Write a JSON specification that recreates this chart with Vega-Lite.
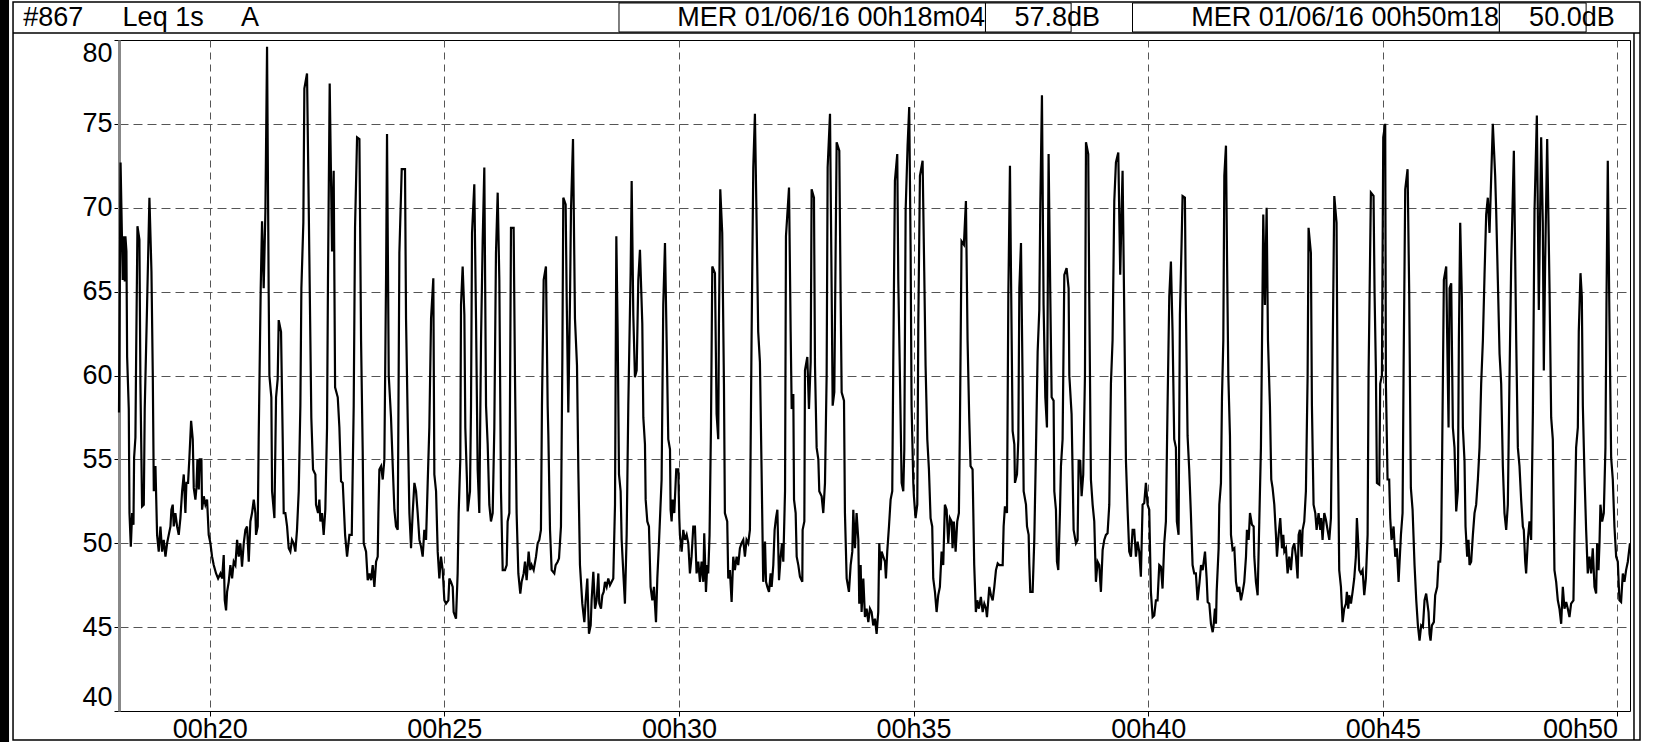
{
"$schema": "https://vega.github.io/schema/vega-lite/v6.json",
"width": 1511, "height": 671,
"autosize": {"type": "none"},
"padding": {"left": 119, "top": 40, "right": 28, "bottom": 31},
"background": "white",
"config": {"view": {"stroke": "#000", "strokeWidth": 1}, "font": "Liberation Sans"},
"data": {"values": [
{"s":1084,"leq":57.8},{"s":1086,"leq":72.7},{"s":1088.8,"leq":65.7},{"s":1090.1,"leq":68.3},{"s":1091.4,"leq":65.6},{"s":1092.2,"leq":68.3},{"s":1093.5,"leq":67.4},{"s":1094.4,"leq":61.1},{"s":1096.5,"leq":58.0},{"s":1097.4,"leq":51.8},{"s":1099.1,"leq":49.8},{"s":1100.8,"leq":51.8},{"s":1102.5,"leq":51.1},{"s":1103.3,"leq":55.1},{"s":1105.0,"leq":56.3},{"s":1105.9,"leq":61.1},{"s":1107.6,"leq":68.9},{"s":1110.1,"leq":68.1},{"s":1111.4,"leq":59.5},{"s":1113.5,"leq":52.2},{"s":1115.7,"leq":52.3},{"s":1116.9,"leq":58.0},{"s":1119.9,"leq":64.2},{"s":1122.9,"leq":70.6},{"s":1125.5,"leq":66.2},{"s":1127.2,"leq":60.0},{"s":1128.5,"leq":53.1},{"s":1130.6,"leq":54.6},{"s":1132.7,"leq":50.5},{"s":1134.8,"leq":49.5},{"s":1137.0,"leq":51.0},{"s":1139.1,"leq":49.5},{"s":1141.2,"leq":50.2},{"s":1143.4,"leq":49.2},{"s":1145.5,"leq":50.0},{"s":1147.6,"leq":50.5},{"s":1149.8,"leq":51.0},{"s":1151.0,"leq":52.0},{"s":1152.7,"leq":52.3},{"s":1154.0,"leq":51.0},{"s":1156.1,"leq":51.8},{"s":1158.3,"leq":51.0},{"s":1160.4,"leq":50.5},{"s":1162.5,"leq":51.5},{"s":1164.7,"leq":53.1},{"s":1166.8,"leq":54.1},{"s":1168.9,"leq":51.8},{"s":1170.2,"leq":53.6},{"s":1172.3,"leq":53.6},{"s":1174.0,"leq":55.1},{"s":1176.2,"leq":57.3},{"s":1178.3,"leq":56.2},{"s":1179.6,"leq":53.3},{"s":1181.7,"leq":52.6},{"s":1183.0,"leq":53.3},{"s":1184.3,"leq":55.0},{"s":1186.0,"leq":53.2},{"s":1187.2,"leq":55.0},{"s":1189.4,"leq":55.0},{"s":1190.2,"leq":52.0},{"s":1192.4,"leq":52.8},{"s":1194.5,"leq":52.3},{"s":1196.6,"leq":52.6},{"s":1198.7,"leq":50.5},{"s":1200.9,"leq":50.0},{"s":1203.0,"leq":49.2},{"s":1205.1,"leq":48.7},{"s":1208.1,"leq":48.2},{"s":1210.7,"leq":47.9},{"s":1213.7,"leq":48.2},{"s":1215.8,"leq":47.9},{"s":1217.9,"leq":49.3},{"s":1219.2,"leq":46.6},{"s":1220.9,"leq":46.0},{"s":1222.2,"leq":47.1},{"s":1224.3,"leq":47.7},{"s":1226.4,"leq":48.7},{"s":1228.6,"leq":47.9},{"s":1230.7,"leq":48.9},{"s":1232.8,"leq":48.7},{"s":1235.0,"leq":50.2},{"s":1237.1,"leq":49.2},{"s":1239.2,"leq":50.0},{"s":1241.3,"leq":48.6},{"s":1243.5,"leq":50.0},{"s":1245.6,"leq":50.8},{"s":1247.7,"leq":51.0},{"s":1249.9,"leq":48.9},{"s":1252.0,"leq":51.3},{"s":1254.1,"leq":51.8},{"s":1256.3,"leq":52.6},{"s":1258.4,"leq":51.8},{"s":1259.2,"leq":50.5},{"s":1261.4,"leq":51.0},{"s":1262.6,"leq":56.2},{"s":1265.2,"leq":65.2},{"s":1266.9,"leq":69.2},{"s":1269.0,"leq":65.2},{"s":1271.2,"leq":69.8},{"s":1273.3,"leq":79.6},{"s":1275.4,"leq":64.9},{"s":1276.3,"leq":60.0},{"s":1278.8,"leq":58.7},{"s":1279.7,"leq":53.1},{"s":1282.7,"leq":51.5},{"s":1284.8,"leq":58.7},{"s":1286.9,"leq":59.8},{"s":1288.2,"leq":63.3},{"s":1291.2,"leq":62.6},{"s":1293.3,"leq":56.3},{"s":1294.6,"leq":51.8},{"s":1296.7,"leq":51.8},{"s":1298.9,"leq":51.0},{"s":1301.0,"leq":49.7},{"s":1303.1,"leq":49.5},{"s":1305.2,"leq":50.2},{"s":1307.4,"leq":50.0},{"s":1309.5,"leq":49.5},{"s":1311.6,"leq":50.8},{"s":1313.8,"leq":53.1},{"s":1315.9,"leq":58.2},{"s":1317.2,"leq":65.2},{"s":1319.7,"leq":69.1},{"s":1321.0,"leq":77.1},{"s":1324.4,"leq":78.0},{"s":1326.5,"leq":70.4},{"s":1328.7,"leq":62.1},{"s":1329.9,"leq":57.5},{"s":1332.1,"leq":54.4},{"s":1335.1,"leq":54.1},{"s":1335.9,"leq":52.3},{"s":1338.5,"leq":51.8},{"s":1340.2,"leq":52.6},{"s":1341.5,"leq":51.3},{"s":1343.6,"leq":51.8},{"s":1345.7,"leq":50.5},{"s":1347.8,"leq":52.0},{"s":1350.0,"leq":56.9},{"s":1351.2,"leq":65.7},{"s":1353.4,"leq":77.4},{"s":1355.5,"leq":70.4},{"s":1356.4,"leq":67.4},{"s":1358.5,"leq":72.2},
{"s":1359.4,"leq":65.7},{"s":1360.3,"leq":59.3},{"s":1363.7,"leq":58.7},{"s":1365.8,"leq":56.9},{"s":1367.9,"leq":53.7},{"s":1370.1,"leq":53.6},{"s":1373.1,"leq":50.5},{"s":1375.6,"leq":49.2},{"s":1378.6,"leq":50.5},{"s":1381.6,"leq":50.5},{"s":1384.1,"leq":58.2},{"s":1385.8,"leq":68.8},{"s":1388.4,"leq":74.2},{"s":1391.4,"leq":74.1},{"s":1393.5,"leq":62.1},{"s":1395.6,"leq":55.5},{"s":1396.9,"leq":50.0},{"s":1399.9,"leq":49.5},{"s":1402.0,"leq":47.8},{"s":1404.2,"leq":48.2},{"s":1406.3,"leq":47.8},{"s":1408.4,"leq":48.7},{"s":1410.5,"leq":47.4},{"s":1412.7,"leq":48.9},{"s":1414.8,"leq":49.2},{"s":1415.7,"leq":51.8},{"s":1416.9,"leq":54.4},{"s":1419.1,"leq":54.6},{"s":1421.2,"leq":53.8},{"s":1423.3,"leq":55.0},{"s":1425.5,"leq":66.0},{"s":1426.7,"leq":74.4},{"s":1428.9,"leq":60.0},{"s":1431.8,"leq":57.5},{"s":1434.0,"leq":54.6},{"s":1436.1,"leq":52.0},{"s":1438.2,"leq":51.0},{"s":1440.4,"leq":50.8},{"s":1442.5,"leq":67.3},{"s":1445.5,"leq":72.3},{"s":1449.7,"leq":72.3},{"s":1451.0,"leq":63.4},{"s":1453.1,"leq":57.5},{"s":1455.3,"leq":51.8},{"s":1457.4,"leq":49.7},{"s":1459.5,"leq":51.8},{"s":1461.7,"leq":53.6},{"s":1463.8,"leq":53.1},{"s":1465.9,"leq":51.8},{"s":1468.1,"leq":50.2},{"s":1470.2,"leq":49.8},{"s":1472.3,"leq":49.2},{"s":1474.4,"leq":50.8},{"s":1476.6,"leq":50.2},{"s":1478.7,"leq":53.6},{"s":1480.8,"leq":56.9},{"s":1483.0,"leq":63.4},{"s":1485.9,"leq":65.8},{"s":1487.2,"leq":54.1},{"s":1489.4,"leq":53.1},{"s":1491.5,"leq":49.5},{"s":1493.6,"leq":47.9},{"s":1495.7,"leq":49.2},{"s":1497.9,"leq":48.4},{"s":1500.0,"leq":46.6},{"s":1502.1,"leq":46.4},{"s":1505.1,"leq":46.6},{"s":1506.4,"leq":47.9},{"s":1508.5,"leq":47.7},{"s":1510.7,"leq":47.4},{"s":1511.9,"leq":45.9},{"s":1514.9,"leq":45.5},{"s":1517.0,"leq":48.2},{"s":1518.3,"leq":51.8},{"s":1520.4,"leq":55.0},{"s":1521.3,"leq":64.2},{"s":1523.4,"leq":66.5},{"s":1525.6,"leq":63.6},{"s":1526.8,"leq":56.9},{"s":1529.0,"leq":53.6},{"s":1529.8,"leq":51.9},{"s":1532.8,"leq":53.1},{"s":1534.1,"leq":58.2},{"s":1535.4,"leq":68.5},{"s":1538.3,"leq":71.4},{"s":1540.5,"leq":63.4},{"s":1542.6,"leq":54.4},{"s":1544.7,"leq":51.8},{"s":1546.9,"leq":62.1},{"s":1549.0,"leq":68.0},{"s":1551.1,"leq":72.4},{"s":1553.3,"leq":58.2},{"s":1555.4,"leq":55.9},{"s":1557.5,"leq":52.3},{"s":1559.6,"leq":51.3},{"s":1561.8,"leq":51.8},{"s":1563.9,"leq":56.9},{"s":1566.0,"leq":67.3},{"s":1568.2,"leq":70.9},{"s":1570.3,"leq":65.7},{"s":1572.4,"leq":53.1},{"s":1574.6,"leq":48.4},{"s":1577.5,"leq":48.4},{"s":1579.7,"leq":48.7},{"s":1580.9,"leq":51.3},{"s":1583.1,"leq":51.8},{"s":1585.2,"leq":68.8},{"s":1588.6,"leq":68.8},{"s":1590.3,"leq":60.0},{"s":1592.4,"leq":51.8},{"s":1594.6,"leq":48.2},{"s":1597.1,"leq":47.0},{"s":1598.8,"leq":47.7},{"s":1601.4,"leq":48.2},{"s":1603.1,"leq":48.9},{"s":1605.2,"leq":47.8},{"s":1607.8,"leq":49.5},{"s":1609.9,"leq":48.4},{"s":1611.6,"leq":48.7},{"s":1614.2,"leq":48.4},{"s":1617.2,"leq":49.2},{"s":1619.3,"leq":50.0},{"s":1621.4,"leq":50.2},{"s":1623.5,"leq":50.8},{"s":1624.8,"leq":58.2},{"s":1627.0,"leq":65.7},{"s":1629.9,"leq":66.5},{"s":1632.1,"leq":58.2},
{"s":1633.0,"leq":56.4},{"s":1635.1,"leq":50.8},{"s":1637.2,"leq":48.4},{"s":1640.6,"leq":48.2},{"s":1642.3,"leq":48.7},{"s":1644.9,"leq":48.9},{"s":1646.6,"leq":49.1},{"s":1649.1,"leq":51.0},{"s":1650.9,"leq":61.1},{"s":1652.1,"leq":70.6},{"s":1655.1,"leq":70.2},{"s":1656.4,"leq":64.7},{"s":1658.5,"leq":57.8},{"s":1660.7,"leq":64.7},{"s":1661.9,"leq":69.8},{"s":1664.5,"leq":74.1},{"s":1667.0,"leq":63.4},{"s":1669.6,"leq":60.6},{"s":1671.3,"leq":54.4},{"s":1673.4,"leq":48.7},{"s":1676.4,"leq":46.4},{"s":1679.0,"leq":45.3},{"s":1680.7,"leq":46.6},{"s":1682.8,"leq":47.9},{"s":1684.9,"leq":44.6},{"s":1687.1,"leq":45.1},{"s":1688.3,"leq":46.6},{"s":1690.5,"leq":48.3},{"s":1692.6,"leq":46.1},{"s":1694.7,"leq":46.6},{"s":1696.9,"leq":48.2},{"s":1698.1,"leq":46.4},{"s":1700.3,"leq":46.1},{"s":1702.0,"leq":46.9},{"s":1703.7,"leq":47.1},{"s":1705.4,"leq":47.7},{"s":1707.5,"leq":47.4},{"s":1709.6,"leq":47.9},{"s":1711.8,"leq":47.5},{"s":1713.9,"leq":47.7},{"s":1716.0,"leq":47.9},{"s":1718.2,"leq":52.3},{"s":1719.9,"leq":68.3},{"s":1721.6,"leq":62.6},{"s":1723.3,"leq":54.1},{"s":1725.4,"leq":53.1},{"s":1726.7,"leq":50.2},{"s":1729.2,"leq":47.9},{"s":1730.9,"leq":46.4},{"s":1733.1,"leq":50.5},{"s":1735.2,"leq":58.2},{"s":1738.2,"leq":66.2},{"s":1739.5,"leq":71.6},{"s":1741.6,"leq":63.6},{"s":1743.7,"leq":59.9},{"s":1745.9,"leq":60.3},{"s":1748.0,"leq":65.7},{"s":1750.1,"leq":67.5},{"s":1753.1,"leq":63.1},{"s":1754.4,"leq":57.5},{"s":1756.5,"leq":55.9},{"s":1757.4,"leq":52.6},{"s":1759.5,"leq":51.3},{"s":1761.6,"leq":51.0},{"s":1763.7,"leq":47.4},{"s":1765.9,"leq":46.6},{"s":1768.0,"leq":47.4},{"s":1770.6,"leq":45.3},{"s":1772.3,"leq":47.9},{"s":1774.4,"leq":50.0},{"s":1777.8,"leq":53.8},{"s":1779.9,"leq":64.2},{"s":1782.1,"leq":67.9},{"s":1784.2,"leq":62.1},{"s":1786.3,"leq":56.2},{"s":1788.5,"leq":55.6},{"s":1789.3,"leq":52.0},{"s":1790.6,"leq":51.3},{"s":1791.9,"leq":52.6},{"s":1794.0,"leq":51.8},{"s":1796.5,"leq":54.4},{"s":1799.1,"leq":54.4},{"s":1800.4,"leq":51.5},{"s":1801.2,"leq":50.5},{"s":1803.4,"leq":49.5},{"s":1805.5,"leq":50.8},{"s":1807.6,"leq":50.2},{"s":1809.8,"leq":50.5},{"s":1811.9,"leq":50.0},{"s":1814.0,"leq":48.2},{"s":1816.1,"leq":49.2},{"s":1818.3,"leq":51.0},{"s":1820.4,"leq":51.0},{"s":1822.5,"leq":48.2},{"s":1824.7,"leq":48.9},{"s":1826.8,"leq":47.7},{"s":1828.9,"leq":48.9},{"s":1831.1,"leq":47.7},{"s":1832.3,"leq":50.6},{"s":1834.5,"leq":47.1},{"s":1836.2,"leq":48.7},{"s":1837.4,"leq":48.2},{"s":1839.1,"leq":50.5},{"s":1840.9,"leq":56.9},{"s":1842.6,"leq":66.5},{"s":1846.0,"leq":66.1},{"s":1848.1,"leq":57.7},{"s":1850.2,"leq":56.2},{"s":1851.1,"leq":63.1},{"s":1852.8,"leq":71.1},{"s":1855.3,"leq":68.5},{"s":1857.5,"leq":59.5},{"s":1858.7,"leq":51.8},{"s":1861.7,"leq":51.3},{"s":1863.0,"leq":47.9},{"s":1865.1,"leq":48.4},{"s":1867.3,"leq":46.5},{"s":1869.4,"leq":49.2},{"s":1871.5,"leq":48.4},{"s":1873.7,"leq":49.2},{"s":1875.8,"leq":48.7},{"s":1877.9,"leq":49.7},{"s":1880.0,"leq":50.0},{"s":1882.2,"leq":50.2},{"s":1884.3,"leq":49.2},{"s":1886.4,"leq":50.2},{"s":1888.6,"leq":50.0},{"s":1890.7,"leq":50.8},{"s":1892.8,"leq":62.1},{"s":1895.0,"leq":72.4},{"s":1897.1,"leq":75.6},{"s":1899.2,"leq":69.3},{"s":1901.3,"leq":62.6},{"s":1903.5,"leq":60.8},{"s":1905.6,"leq":54.4},{"s":1907.7,"leq":47.7},
{"s":1910.0,"leq":50.1},{"s":1911.3,"leq":47.7},{"s":1913.0,"leq":47.4},{"s":1915.1,"leq":47.1},{"s":1917.2,"leq":48.2},{"s":1918.5,"leq":47.4},{"s":1920.6,"leq":48.7},{"s":1922.3,"leq":50.8},{"s":1924.0,"leq":51.5},{"s":1925.8,"leq":52.0},{"s":1927.9,"leq":47.8},{"s":1930.0,"leq":49.2},{"s":1931.7,"leq":50.0},{"s":1933.4,"leq":48.9},{"s":1935.6,"leq":53.1},{"s":1936.8,"leq":68.3},{"s":1940.7,"leq":71.2},{"s":1942.8,"leq":62.6},{"s":1944.1,"leq":58.0},{"s":1946.2,"leq":58.9},{"s":1947.1,"leq":52.6},{"s":1949.2,"leq":51.8},{"s":1950.5,"leq":49.2},{"s":1952.6,"leq":48.7},{"s":1954.7,"leq":48.0},{"s":1957.7,"leq":47.7},{"s":1958.1,"leq":50.8},{"s":1960.3,"leq":51.3},{"s":1961.1,"leq":60.3},{"s":1964.1,"leq":61.1},{"s":1966.2,"leq":58.0},{"s":1968.4,"leq":60.8},{"s":1969.6,"leq":71.1},{"s":1972.6,"leq":70.6},{"s":1973.9,"leq":60.6},{"s":1976.0,"leq":55.7},{"s":1978.2,"leq":55.0},{"s":1979.4,"leq":53.1},{"s":1982.4,"leq":52.8},{"s":1984.5,"leq":51.8},{"s":1986.7,"leq":53.6},{"s":1988.8,"leq":60.0},{"s":1990.1,"leq":72.4},{"s":1993.1,"leq":75.6},{"s":1995.2,"leq":65.2},{"s":1996.5,"leq":58.2},{"s":1998.6,"leq":59.0},{"s":2001.6,"leq":73.9},{"s":2005.0,"leq":73.4},{"s":2006.7,"leq":64.7},{"s":2008.0,"leq":59.0},{"s":2011.0,"leq":58.5},{"s":2012.2,"leq":51.8},{"s":2014.4,"leq":47.9},{"s":2017.3,"leq":47.1},{"s":2019.5,"leq":48.7},{"s":2021.6,"leq":49.5},{"s":2022.9,"leq":52.0},{"s":2025.0,"leq":49.7},{"s":2027.1,"leq":51.8},{"s":2029.3,"leq":50.2},{"s":2030.5,"leq":46.4},{"s":2032.3,"leq":48.7},{"s":2033.5,"leq":45.9},{"s":2035.7,"leq":47.9},{"s":2037.8,"leq":45.6},{"s":2039.9,"leq":46.1},{"s":2042.1,"leq":45.3},{"s":2044.2,"leq":46.1},{"s":2046.3,"leq":45.9},{"s":2048.4,"leq":45.1},{"s":2050.6,"leq":45.5},{"s":2052.7,"leq":44.6},{"s":2054.8,"leq":45.9},{"s":2056.1,"leq":50.0},{"s":2057.8,"leq":48.4},{"s":2059.1,"leq":49.5},{"s":2061.2,"leq":49.2},{"s":2063.4,"leq":48.9},{"s":2064.6,"leq":47.9},{"s":2066.3,"leq":49.5},{"s":2068.5,"leq":51.0},{"s":2070.6,"leq":52.6},{"s":2072.7,"leq":53.1},{"s":2074.0,"leq":60.8},{"s":2076.1,"leq":71.6},{"s":2079.1,"leq":73.2},{"s":2080.4,"leq":65.7},{"s":2082.5,"leq":60.0},{"s":2084.7,"leq":53.6},{"s":2086.8,"leq":53.1},{"s":2088.1,"leq":55.6},{"s":2089.8,"leq":69.8},{"s":2092.3,"leq":73.7},{"s":2094.4,"leq":76.0},{"s":2096.2,"leq":67.3},{"s":2097.4,"leq":58.2},{"s":2099.6,"leq":53.6},{"s":2100.4,"leq":52.8},{"s":2102.5,"leq":51.5},{"s":2104.7,"leq":52.3},{"s":2106.0,"leq":63.1},{"s":2108.1,"leq":71.9},{"s":2111.5,"leq":72.8},{"s":2113.6,"leq":66.2},{"s":2115.3,"leq":60.6},{"s":2117.5,"leq":56.2},{"s":2119.6,"leq":54.4},{"s":2121.7,"leq":51.5},{"s":2123.8,"leq":51.0},{"s":2125.1,"leq":47.9},{"s":2127.3,"leq":47.1},{"s":2129.4,"leq":45.9},{"s":2131.5,"leq":46.9},{"s":2133.6,"leq":47.4},{"s":2135.8,"leq":49.5},{"s":2137.9,"leq":48.7},{"s":2140.0,"leq":52.3},{"s":2142.2,"leq":52.0},{"s":2144.3,"leq":50.0},{"s":2146.4,"leq":51.5},{"s":2148.6,"leq":51.3},{"s":2149.8,"leq":49.7},{"s":2151.5,"leq":51.3},{"s":2153.7,"leq":49.5},{"s":2155.8,"leq":51.3},{"s":2157.9,"leq":51.8},{"s":2159.2,"leq":56.9},{"s":2161.3,"leq":68.0},{"s":2164.3,"leq":67.8},{"s":2166.9,"leq":70.4},{"s":2169.0,"leq":62.1},{"s":2171.1,"leq":57.5},{"s":2172.8,"leq":54.6},{"s":2175.4,"leq":54.4},{"s":2177.5,"leq":48.7},{"s":2179.6,"leq":45.9},{"s":2181.4,"leq":46.6},{"s":2183.5,"leq":46.1},{"s":2186.0,"leq":46.8},
{"s":2188.3,"leq":45.9},{"s":2190.4,"leq":46.4},{"s":2192.6,"leq":46.1},{"s":2193.8,"leq":45.6},{"s":2196.8,"leq":47.4},{"s":2198.9,"leq":46.9},{"s":2201.1,"leq":46.6},{"s":2203.2,"leq":47.4},{"s":2205.3,"leq":48.4},{"s":2207.5,"leq":48.8},{"s":2209.6,"leq":48.7},{"s":2213.9,"leq":48.7},{"s":2215.1,"leq":51.0},{"s":2216.8,"leq":52.2},{"s":2219.4,"leq":51.8},{"s":2221.1,"leq":64.7},{"s":2223.2,"leq":72.5},{"s":2224.5,"leq":66.2},{"s":2226.6,"leq":56.7},{"s":2228.8,"leq":55.9},{"s":2229.6,"leq":53.6},{"s":2232.2,"leq":54.1},{"s":2233.9,"leq":56.2},{"s":2235.2,"leq":65.2},{"s":2237.3,"leq":67.9},{"s":2239.4,"leq":59.5},{"s":2240.7,"leq":53.1},{"s":2243.7,"leq":52.3},{"s":2245.0,"leq":51.0},{"s":2247.1,"leq":50.5},{"s":2247.9,"leq":48.8},{"s":2249.2,"leq":47.1},{"s":2252.2,"leq":47.1},{"s":2254.3,"leq":50.2},{"s":2256.5,"leq":55.7},{"s":2258.6,"leq":61.4},{"s":2260.7,"leq":63.9},{"s":2262.0,"leq":70.1},{"s":2264.1,"leq":76.7},{"s":2266.2,"leq":64.2},{"s":2268.4,"leq":58.7},{"s":2270.5,"leq":56.9},{"s":2272.6,"leq":73.2},{"s":2274.8,"leq":64.7},{"s":2276.5,"leq":58.7},{"s":2279.0,"leq":58.5},{"s":2279.9,"leq":53.1},{"s":2282.0,"leq":52.0},{"s":2283.3,"leq":48.9},{"s":2285.0,"leq":48.4},{"s":2287.1,"leq":51.8},{"s":2288.4,"leq":54.6},{"s":2290.5,"leq":56.2},{"s":2292.7,"leq":66.0},{"s":2295.6,"leq":66.4},{"s":2298.2,"leq":65.2},{"s":2299.1,"leq":60.0},{"s":2302.0,"leq":57.7},{"s":2304.6,"leq":50.8},{"s":2307.6,"leq":50.0},{"s":2309.7,"leq":50.2},{"s":2311.0,"leq":54.9},{"s":2313.1,"leq":54.9},{"s":2314.8,"leq":52.8},{"s":2316.9,"leq":54.1},{"s":2319.1,"leq":60.0},{"s":2320.4,"leq":73.9},{"s":2323.3,"leq":73.2},{"s":2324.6,"leq":64.7},{"s":2326.7,"leq":53.8},{"s":2328.9,"leq":52.3},{"s":2331.0,"leq":51.3},{"s":2333.1,"leq":47.7},{"s":2335.3,"leq":48.9},{"s":2337.4,"leq":48.7},{"s":2339.5,"leq":47.1},{"s":2341.7,"leq":49.6},{"s":2343.8,"leq":50.2},{"s":2345.9,"leq":50.5},{"s":2348.0,"leq":50.6},{"s":2350.2,"leq":52.3},{"s":2352.3,"leq":59.5},{"s":2354.4,"leq":62.1},{"s":2356.6,"leq":70.4},{"s":2358.7,"leq":72.7},{"s":2361.7,"leq":73.3},{"s":2364.2,"leq":66.0},{"s":2365.9,"leq":69.8},{"s":2367.2,"leq":72.2},{"s":2369.3,"leq":63.9},{"s":2371.5,"leq":54.9},{"s":2373.6,"leq":52.0},{"s":2375.7,"leq":49.5},{"s":2377.9,"leq":49.2},{"s":2380.0,"leq":50.8},{"s":2382.1,"leq":50.8},{"s":2384.3,"leq":49.2},{"s":2386.4,"leq":50.1},{"s":2388.5,"leq":49.5},{"s":2390.6,"leq":48.0},{"s":2392.8,"leq":52.3},{"s":2394.9,"leq":52.4},{"s":2397.0,"leq":53.6},{"s":2399.2,"leq":52.3},{"s":2401.3,"leq":52.0},{"s":2403.4,"leq":47.1},{"s":2405.6,"leq":45.6},{"s":2407.7,"leq":45.7},{"s":2409.8,"leq":46.6},{"s":2411.9,"leq":46.6},{"s":2414.1,"leq":48.7},{"s":2416.2,"leq":48.6},{"s":2418.3,"leq":47.3},{"s":2420.5,"leq":50.0},{"s":2422.6,"leq":51.3},{"s":2424.7,"leq":58.2},{"s":2426.9,"leq":64.7},{"s":2429.0,"leq":66.8},{"s":2431.1,"leq":62.6},{"s":2433.2,"leq":56.2},{"s":2435.4,"leq":55.7},{"s":2436.6,"leq":51.3},{"s":2438.8,"leq":50.5},{"s":2440.5,"leq":63.6},{"s":2442.6,"leq":67.8},{"s":2443.9,"leq":70.7},{"s":2446.9,"leq":70.6},{"s":2448.1,"leq":64.2},{"s":2450.3,"leq":56.4},{"s":2452.4,"leq":54.4},{"s":2454.5,"leq":51.8},{"s":2456.7,"leq":48.7},{"s":2458.8,"leq":48.2},{"s":2460.9,"leq":48.2},{"s":2463.1,"leq":46.6},{"s":2465.6,"leq":47.7},
{"s":2467.5,"leq":48.7},{"s":2469.6,"leq":48.4},{"s":2472.6,"leq":49.5},{"s":2474.7,"leq":47.9},{"s":2476.0,"leq":46.5},{"s":2478.1,"leq":46.4},{"s":2480.2,"leq":45.2},{"s":2482.4,"leq":44.7},{"s":2483.6,"leq":45.1},{"s":2485.3,"leq":46.1},{"s":2486.6,"leq":45.2},{"s":2487.5,"leq":47.1},{"s":2490.0,"leq":49.7},{"s":2490.9,"leq":52.3},{"s":2493.0,"leq":53.6},{"s":2494.3,"leq":58.7},{"s":2496.0,"leq":62.1},{"s":2497.3,"leq":71.9},{"s":2499.4,"leq":73.7},{"s":2500.7,"leq":67.3},{"s":2502.4,"leq":60.0},{"s":2504.5,"leq":56.4},{"s":2505.8,"leq":50.5},{"s":2507.9,"leq":49.6},{"s":2510.1,"leq":49.7},{"s":2512.2,"leq":47.7},{"s":2514.3,"leq":47.1},{"s":2516.4,"leq":47.4},{"s":2518.6,"leq":46.6},{"s":2520.7,"leq":47.1},{"s":2522.8,"leq":47.7},{"s":2525.0,"leq":49.2},{"s":2526.2,"leq":50.8},{"s":2528.4,"leq":50.2},{"s":2530.1,"leq":51.8},{"s":2532.6,"leq":51.1},{"s":2534.8,"leq":51.0},{"s":2535.6,"leq":49.2},{"s":2537.7,"leq":47.7},{"s":2539.9,"leq":46.9},{"s":2542.0,"leq":51.3},{"s":2544.1,"leq":55.7},{"s":2545.4,"leq":61.6},{"s":2547.1,"leq":69.6},{"s":2549.2,"leq":64.2},{"s":2551.4,"leq":70.0},{"s":2553.1,"leq":62.1},{"s":2555.6,"leq":58.2},{"s":2557.3,"leq":53.8},{"s":2559.0,"leq":53.3},{"s":2561.2,"leq":52.3},{"s":2563.3,"leq":50.5},{"s":2564.6,"leq":49.2},{"s":2566.7,"leq":50.5},{"s":2568.8,"leq":51.5},{"s":2571.0,"leq":49.7},{"s":2572.7,"leq":50.5},{"s":2574.0,"leq":49.5},{"s":2576.1,"leq":49.7},{"s":2578.2,"leq":48.2},{"s":2580.3,"leq":49.2},{"s":2582.5,"leq":48.4},{"s":2584.6,"leq":49.7},{"s":2586.7,"leq":50.0},{"s":2588.9,"leq":49.2},{"s":2591.0,"leq":47.9},{"s":2592.3,"leq":50.5},{"s":2594.0,"leq":50.8},{"s":2596.1,"leq":49.2},{"s":2597.4,"leq":50.8},{"s":2599.5,"leq":51.3},{"s":2601.6,"leq":53.1},{"s":2603.8,"leq":60.0},{"s":2605.0,"leq":68.8},{"s":2608.0,"leq":67.3},{"s":2609.3,"leq":58.2},{"s":2611.4,"leq":52.3},{"s":2613.6,"leq":51.8},{"s":2615.3,"leq":50.8},{"s":2617.8,"leq":51.8},{"s":2620.0,"leq":50.8},{"s":2621.2,"leq":51.5},{"s":2622.9,"leq":50.2},{"s":2625.1,"leq":51.8},{"s":2627.2,"leq":51.4},{"s":2629.3,"leq":50.8},{"s":2631.5,"leq":50.2},{"s":2633.6,"leq":51.5},{"s":2635.7,"leq":60.8},{"s":2637.9,"leq":70.7},{"s":2640.8,"leq":69.1},{"s":2642.5,"leq":55.9},{"s":2644.2,"leq":48.4},{"s":2646.4,"leq":47.4},{"s":2648.5,"leq":45.3},{"s":2650.6,"leq":46.1},{"s":2652.8,"leq":46.4},{"s":2654.0,"leq":47.1},{"s":2655.7,"leq":46.1},{"s":2657.0,"leq":46.9},{"s":2659.2,"leq":46.4},{"s":2661.3,"leq":47.1},{"s":2663.4,"leq":47.9},{"s":2665.5,"leq":49.2},{"s":2666.8,"leq":51.5},{"s":2668.5,"leq":50.0},{"s":2669.8,"leq":48.4},{"s":2671.9,"leq":48.2},{"s":2674.1,"leq":48.4},{"s":2676.2,"leq":46.9},{"s":2678.3,"leq":47.9},{"s":2680.5,"leq":50.5},{"s":2681.7,"leq":60.0},{"s":2684.7,"leq":70.9},{"s":2688.1,"leq":70.7},{"s":2689.4,"leq":64.9},{"s":2691.1,"leq":60.3},{"s":2692.4,"leq":53.6},{"s":2695.4,"leq":53.5},{"s":2696.6,"leq":59.5},{"s":2698.8,"leq":60.0},{"s":2700.5,"leq":74.2},{"s":2703.0,"leq":75.0},{"s":2703.9,"leq":59.5},{"s":2706.0,"leq":53.8},{"s":2708.1,"leq":53.8},{"s":2709.4,"leq":51.5},{"s":2711.1,"leq":50.2},{"s":2713.7,"leq":51.0},{"s":2715.8,"leq":49.2},{"s":2717.9,"leq":49.7},{"s":2720.1,"leq":47.7},{"s":2723.1,"leq":50.5},{"s":2725.2,"leq":51.8},{"s":2726.5,"leq":60.3},{"s":2728.6,"leq":71.1},{"s":2731.6,"leq":72.3},{"s":2733.7,"leq":64.9},{"s":2735.8,"leq":53.3},{"s":2738.0,"leq":52.0},
{"s":2740.5,"leq":48.7},{"s":2742.7,"leq":46.6},{"s":2744.8,"leq":45.1},{"s":2746.9,"leq":44.2},{"s":2749.0,"leq":45.1},{"s":2751.2,"leq":45.0},{"s":2753.3,"leq":46.6},{"s":2755.4,"leq":47.0},{"s":2758.4,"leq":45.9},{"s":2759.7,"leq":44.6},{"s":2761.0,"leq":44.2},{"s":2762.7,"leq":45.1},{"s":2765.2,"leq":45.3},{"s":2766.9,"leq":46.9},{"s":2769.5,"leq":47.4},{"s":2771.2,"leq":48.9},{"s":2773.3,"leq":48.9},{"s":2774.6,"leq":50.2},{"s":2775.9,"leq":55.7},{"s":2778.0,"leq":65.7},{"s":2781.0,"leq":66.5},{"s":2782.3,"leq":62.1},{"s":2784.0,"leq":56.9},{"s":2785.3,"leq":65.2},{"s":2787.4,"leq":65.5},{"s":2789.5,"leq":56.9},{"s":2791.6,"leq":55.7},{"s":2793.8,"leq":51.9},{"s":2795.9,"leq":53.1},{"s":2797.2,"leq":62.1},{"s":2798.9,"leq":69.1},{"s":2801.0,"leq":64.7},{"s":2802.3,"leq":56.9},{"s":2804.4,"leq":54.9},{"s":2805.7,"leq":51.0},{"s":2807.8,"leq":49.2},{"s":2809.5,"leq":50.2},{"s":2810.8,"leq":48.7},{"s":2812.9,"leq":48.9},{"s":2815.1,"leq":50.5},{"s":2817.2,"leq":51.8},{"s":2819.3,"leq":52.3},{"s":2821.5,"leq":53.8},{"s":2823.6,"leq":55.7},{"s":2825.7,"leq":59.5},{"s":2827.9,"leq":62.1},{"s":2830.0,"leq":66.0},{"s":2832.1,"leq":69.6},{"s":2834.2,"leq":70.6},{"s":2836.4,"leq":68.5},{"s":2837.6,"leq":70.4},{"s":2840.6,"leq":75.0},{"s":2843.6,"leq":71.9},{"s":2844.9,"leq":69.8},{"s":2847.0,"leq":65.7},{"s":2849.2,"leq":61.3},{"s":2851.3,"leq":59.5},{"s":2853.4,"leq":54.6},{"s":2855.5,"leq":51.8},{"s":2857.7,"leq":50.8},{"s":2859.8,"leq":52.3},{"s":2861.9,"leq":59.8},{"s":2864.1,"leq":66.7},{"s":2867.5,"leq":73.4},{"s":2870.5,"leq":62.1},{"s":2872.6,"leq":55.7},{"s":2874.7,"leq":54.6},{"s":2876.8,"leq":52.6},{"s":2879.0,"leq":51.0},{"s":2880.2,"leq":50.8},{"s":2882.0,"leq":48.9},{"s":2883.2,"leq":48.2},{"s":2885.4,"leq":50.2},{"s":2887.5,"leq":51.3},{"s":2889.6,"leq":50.2},{"s":2891.8,"leq":57.7},{"s":2893.9,"leq":69.8},{"s":2896.9,"leq":75.5},{"s":2899.4,"leq":63.9},{"s":2902.4,"leq":74.2},{"s":2904.5,"leq":69.1},{"s":2905.8,"leq":60.3},{"s":2907.5,"leq":66.7},{"s":2910.1,"leq":74.1},{"s":2913.1,"leq":65.2},{"s":2915.2,"leq":57.5},{"s":2917.3,"leq":56.2},{"s":2919.4,"leq":48.4},{"s":2921.6,"leq":47.7},{"s":2923.7,"leq":46.6},{"s":2925.8,"leq":46.1},{"s":2928.0,"leq":45.2},{"s":2930.1,"leq":47.4},{"s":2932.2,"leq":46.1},{"s":2934.4,"leq":46.5},{"s":2936.5,"leq":46.1},{"s":2938.6,"leq":45.6},{"s":2940.7,"leq":46.4},{"s":2943.7,"leq":46.6},{"s":2945.0,"leq":50.5},{"s":2947.1,"leq":55.7},{"s":2949.3,"leq":56.9},{"s":2950.5,"leq":62.6},{"s":2952.7,"leq":66.1},{"s":2954.4,"leq":64.7},{"s":2955.7,"leq":58.2},{"s":2957.8,"leq":54.1},{"s":2959.9,"leq":50.8},{"s":2962.0,"leq":48.2},{"s":2964.2,"leq":49.2},{"s":2966.3,"leq":48.2},{"s":2968.4,"leq":49.7},{"s":2970.6,"leq":47.4},{"s":2972.7,"leq":47.0},{"s":2974.0,"leq":50.0},{"s":2975.7,"leq":48.4},{"s":2977.0,"leq":50.0},{"s":2978.2,"leq":52.3},{"s":2980.4,"leq":51.3},{"s":2982.5,"leq":51.8},{"s":2984.6,"leq":55.7},{"s":2985.9,"leq":64.2},{"s":2987.6,"leq":72.8},{"s":2989.7,"leq":63.4},{"s":2991.9,"leq":55.1},{"s":2994.0,"leq":53.8},{"s":2996.1,"leq":51.0},{"s":2998.3,"leq":49.2},{"s":3000.4,"leq":48.9},{"s":3002.5,"leq":46.6},{"s":3004.6,"leq":46.5},{"s":3006.8,"leq":48.2},{"s":3008.9,"leq":47.7},{"s":3011.0,"leq":48.4},{"s":3013.2,"leq":48.9},{"s":3016,"leq":50.0}
]},
"layer": [
{"mark": {"type": "line", "color": "#000", "strokeWidth": 2.2},
 "encoding": {
  "x": {"field": "s", "type": "quantitative", "scale": {"domain": [1084, 3016], "nice": false, "zero": false},
   "axis": {"title": null, "values": [1200, 1500, 1800, 2100, 2400, 2700, 3000], "labelExpr": "'00h' + format(datum.value / 60, '02d')", "grid": true, "gridColor": "#555", "gridDash": [7, 5], "gridWidth": 1, "domain": false, "ticks": true, "tickColor": "#000", "tickSize": 5, "labelFontSize": 27, "labelFont": "Liberation Sans", "labelColor": "#000", "labelPadding": 0, "labelFlush": 15}},
  "y": {"field": "leq", "type": "quantitative", "scale": {"domain": [40, 80], "nice": false, "zero": false},
   "axis": {"title": null, "values": [40, 45, 50, 55, 60, 65, 70, 75, 80], "grid": true, "gridColor": "#555", "gridDash": [9, 5], "gridWidth": 1, "gridOpacity": {"condition": {"test": "datum.value == 40 || datum.value == 80", "value": 0}, "value": 1}, "domain": true, "domainColor": "#888", "domainWidth": 3, "tickColor": "#000", "tickSize": 5, "labelFontSize": 27, "labelFont": "Liberation Sans", "labelColor": "#000", "labelPadding": 2, "labelFlush": true}}
 }},
{"data": {"values": [{}]}, "mark": {"type": "rect", "fill": "#000"},
 "encoding": {"x": {"datum": 931.8, "type": "quantitative"}, "x2": {"datum": 943.4}, "y": {"datum": 82.4, "type": "quantitative"}, "y2": {"datum": 38.1}}},
{"data": {"values": [{}]}, "mark": {"type": "rect", "fill": null, "stroke": "#000", "strokeWidth": 1.5},
 "encoding": {"x": {"datum": 948.5, "type": "quantitative"}, "x2": {"datum": 3028.8}, "y": {"datum": 82.265, "type": "quantitative"}, "y2": {"datum": 38.27}}},
{"data": {"values": [{}]}, "mark": {"type": "rule", "stroke": "#000", "strokeWidth": 1.5},
 "encoding": {"x": {"datum": 948.5, "type": "quantitative"}, "x2": {"datum": 3028.8}, "y": {"datum": 80.417, "type": "quantitative"}}},
{"data": {"values": [{}]}, "mark": {"type": "rule", "stroke": "#000", "strokeWidth": 1.5},
 "encoding": {"x": {"datum": 3021.1, "type": "quantitative"}, "y": {"datum": 80.417, "type": "quantitative"}, "y2": {"datum": 38.27}}},
{"data": {"values": [{}]}, "mark": {"type": "rect", "fill": "#fff", "stroke": "#000", "strokeWidth": 1},
 "encoding": {"x": {"datum": 1723.3, "type": "quantitative"}, "x2": {"datum": 2191.9}, "y": {"datum": 82.206, "type": "quantitative"}, "y2": {"datum": 80.477}}},
{"data": {"values": [{}]}, "mark": {"type": "rect", "fill": "#fff", "stroke": "#000", "strokeWidth": 1},
 "encoding": {"x": {"datum": 2191.9, "type": "quantitative"}, "x2": {"datum": 2301.4}, "y": {"datum": 82.206, "type": "quantitative"}, "y2": {"datum": 80.477}}},
{"data": {"values": [{}]}, "mark": {"type": "rect", "fill": "#fff", "stroke": "#000", "strokeWidth": 1},
 "encoding": {"x": {"datum": 2379.9, "type": "quantitative"}, "x2": {"datum": 2849.0}, "y": {"datum": 82.206, "type": "quantitative"}, "y2": {"datum": 80.477}}},
{"data": {"values": [{}]}, "mark": {"type": "rect", "fill": "#fff", "stroke": "#000", "strokeWidth": 1},
 "encoding": {"x": {"datum": 2849.0, "type": "quantitative"}, "x2": {"datum": 2959.9}, "y": {"datum": 82.206, "type": "quantitative"}, "y2": {"datum": 80.477}}},
{"data": {"values": [{"label": "#867"}]}, "mark": {"type": "text", "align": "left", "baseline": "alphabetic", "fontSize": 27, "font": "Liberation Sans", "color": "#000"},
 "encoding": {"text": {"field": "label"}, "x": {"datum": 961.6, "type": "quantitative"}, "y": {"datum": 80.864, "type": "quantitative"}}},
{"data": {"values": [{"label": "Leq 1s"}]}, "mark": {"type": "text", "align": "left", "baseline": "alphabetic", "fontSize": 27, "font": "Liberation Sans", "color": "#000"},
 "encoding": {"text": {"field": "label"}, "x": {"datum": 1088.6, "type": "quantitative"}, "y": {"datum": 80.864, "type": "quantitative"}}},
{"data": {"values": [{"label": "A"}]}, "mark": {"type": "text", "align": "left", "baseline": "alphabetic", "fontSize": 27, "font": "Liberation Sans", "color": "#000"},
 "encoding": {"text": {"field": "label"}, "x": {"datum": 1240.0, "type": "quantitative"}, "y": {"datum": 80.864, "type": "quantitative"}}},
{"data": {"values": [{"label": "MER 01/06/16 00h18m04"}]}, "mark": {"type": "text", "align": "right", "baseline": "alphabetic", "fontSize": 27, "font": "Liberation Sans", "color": "#000"},
 "encoding": {"text": {"field": "label"}, "x": {"datum": 2191.3, "type": "quantitative"}, "y": {"datum": 80.864, "type": "quantitative"}}},
{"data": {"values": [{"label": "57.8dB"}]}, "mark": {"type": "text", "align": "left", "baseline": "alphabetic", "fontSize": 27, "font": "Liberation Sans", "color": "#000"},
 "encoding": {"text": {"field": "label"}, "x": {"datum": 2229.0, "type": "quantitative"}, "y": {"datum": 80.864, "type": "quantitative"}}},
{"data": {"values": [{"label": "MER 01/06/16 00h50m18"}]}, "mark": {"type": "text", "align": "right", "baseline": "alphabetic", "fontSize": 27, "font": "Liberation Sans", "color": "#000"},
 "encoding": {"text": {"field": "label"}, "x": {"datum": 2848.5, "type": "quantitative"}, "y": {"datum": 80.864, "type": "quantitative"}}},
{"data": {"values": [{"label": "50.0dB"}]}, "mark": {"type": "text", "align": "left", "baseline": "alphabetic", "fontSize": 27, "font": "Liberation Sans", "color": "#000"},
 "encoding": {"text": {"field": "label"}, "x": {"datum": 2887.0, "type": "quantitative"}, "y": {"datum": 80.864, "type": "quantitative"}}}
]
}
